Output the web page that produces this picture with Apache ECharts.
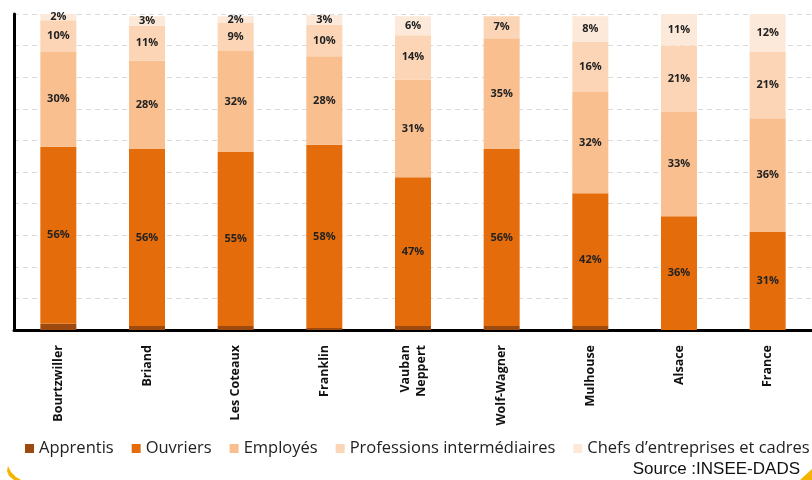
<!DOCTYPE html>
<html>
<head>
<meta charset="utf-8">
<script src="https://cdn.jsdelivr.net/npm/echarts@6/dist/echarts.min.js"></script>
<style>
html,body{margin:0;padding:0;background:#fff;}
#chart{width:812px;height:480px;}
</style>
</head>
<body>
<div id="chart"></div>
<script>
var categories = ['Bourtzwiller','Briand','Les Coteaux','Franklin','Vauban\nNeppert','Wolf-Wagner','Mulhouse','Alsace','France'];
var apprentis = [2, 1.3, 1.3, 0.6, 1.3, 1.3, 1.3, 0, 0];
var ouvriers  = [56, 56, 55, 58, 47, 56, 42, 36, 31];
var employes  = [30, 28, 32, 28, 31, 35, 32, 33, 36];
var profInter = [10, 11, 9, 10, 14, 7, 16, 21, 21];
var chefs     = [2, 3, 2, 3, 6, 0, 8, 11, 12];
var seriesNames = ['Apprentis','Ouvriers','Employés','Professions intermédiaires','Chefs d\u2019entreprises et cadres'];
var colors = ['#9C4A10','#E46C0A','#F9BF8F','#FBD5B5','#FDE9D9'];

var chart = echarts.init(document.getElementById('chart'));
var dataSets = [apprentis, ouvriers, employes, profInter, chefs];
var series = dataSets.map(function(d, i){
  return {
    name: seriesNames[i],
    type: 'bar',
    stack: 'total',
    barWidth: 36,
    data: d,
    itemStyle: {color: colors[i]},
    label: {
      show: i > 0,
      position: 'inside',
      fontFamily: 'Open Sans',
      fontWeight: 'bold',
      fontSize: 11,
      color: '#222',
      formatter: function(p){ return p.value ? p.value + '%' : ''; }
    }
  };
});

chart.setOption({
  animation: false,
  backgroundColor: '#fff',
  color: colors,
  grid: {left: 14, top: 14, width: 800, height: 316, containLabel: false},
  legend: {
    left: 25, top: 440, width: 812, padding: 0,
    icon: 'rect', itemWidth: 9, itemHeight: 9, itemGap: 18,
    textStyle: {fontFamily: 'Open Sans', fontSize: 16.5, color: '#222'},
    data: seriesNames
  },
  xAxis: {
    type: 'category',
    data: categories,
    axisLine: {lineStyle: {color: '#000', width: 3}},
    axisTick: {show: false},
    axisLabel: {rotate: 90, margin: 15, fontFamily: 'Open Sans', fontWeight: 'bold', fontSize: 12.5, color: '#111', lineHeight: 16}
  },
  yAxis: {
    type: 'value', min: 0, max: 100, interval: 10,
    axisLine: {show: true, lineStyle: {color: '#000', width: 3}},
    axisTick: {show: false},
    axisLabel: {show: false},
    splitLine: {lineStyle: {color: '#d9d9d9', type: [5,4], width: 1}}
  },
  graphic: [
    {type: 'text', right: 12, top: 461, style: {text: 'Source :INSEE-DADS', font: '17px "Liberation Sans"', fill: '#111'}},
    {type: 'polygon', shape: {points: [[8,466],[11,472],[16,477],[21,480],[14,480],[9,476],[7,471]]}, style: {fill: '#F5B400'}},
    {type: 'polygon', shape: {points: [[800,480],[812,469],[812,480]]}, style: {fill: '#F5B400'}}
  ],
  series: series
});
</script>
</body>
</html>
